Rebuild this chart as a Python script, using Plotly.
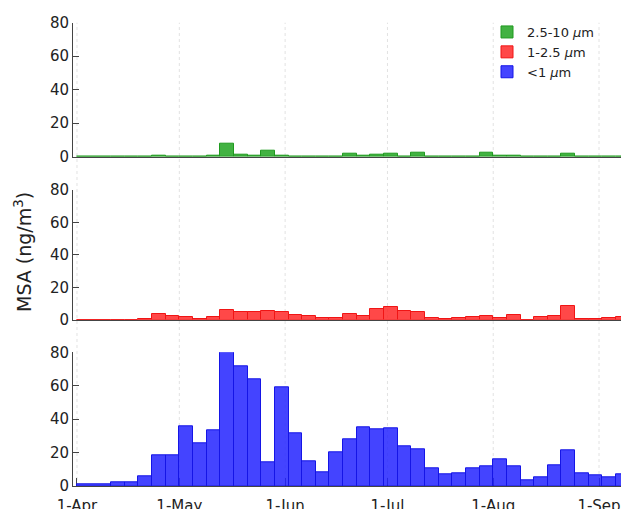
import pandas as pd
import plotly.graph_objects as go

# Sample periods (start date, length in days)
sample_start = ["2016-04-01"] + [d.strftime("%Y-%m-%d") for d in pd.date_range("2016-04-11", "2016-09-06", freq="4D")]
sample_days = [10] + [4] * 38

coarse = [0, 0, 0, 0, 0.4, 0.2, 0.2, 0.2, 0.4, 8.0, 1.2, 0.8, 3.4, 0.8, 0.3, 0.3, 0.2, 0.2, 1.6,
          0.8, 1.4, 1.8, 0.2, 2.4, 0.1, 0.1, 0.1, 0.2, 2.2, 0.4, 0.6, 0.2, 0.2, 0.2, 2.0, 0.2, 0.2, 0.2, 0.2]
mid = [0, 0, 0, 0.3, 3.3, 2.3, 1.9, 0.6, 1.6, 5.8, 4.9, 4.5, 5.1, 4.7, 2.9, 2.5, 0.8, 1.2, 3.3,
       2.3, 6.6, 7.8, 5.3, 4.5, 0.8, 0.2, 1.0, 1.4, 2.5, 0.8, 2.9, 0.1, 1.6, 2.1, 8.4, 0.4, 0.4, 0.8, 1.4]
fine = [0.8, 2.0, 2.2, 5.6, 18.2, 18.6, 35.7, 25.5, 33.3, 79.8, 71.4, 63.8, 14.0, 59.3, 31.5, 15.0, 8.0, 20.3, 27.7,
        34.9, 33.9, 34.3, 23.5, 22.1, 10.4, 7.2, 7.6, 10.8, 11.8, 15.8, 11.6, 3.4, 5.4, 12.6, 21.5, 7.4, 6.4, 5.2, 7.0]

month_ticks = ["2016-04-01", "2016-05-01", "2016-06-01", "2016-07-01", "2016-08-01", "2016-09-01"]
y_ticks = [0, 20, 40, 60, 80]

starts = pd.to_datetime(sample_start)
widths_ms = [d * 86400000 for d in sample_days]
centers = [s + pd.Timedelta(days=d / 2) for s, d in zip(starts, sample_days)]

FONT = "DejaVu Sans"
OFF = 8  # page body margin
W, H = 629 - OFF, 509 - OFF

def py(px):
    return 1 - (px - OFF) / H

series = [
    ("2.5-10 <i>μ</i>m", coarse, "rgba(45,170,45,0.9)", "#1f9a1f", "x", "y"),
    ("1-2.5 <i>μ</i>m", mid, "rgba(255,40,40,0.85)", "#f01515", "x2", "y2"),
    ("<1 <i>μ</i>m", fine, "rgba(35,35,255,0.85)", "#1515e6", "x3", "y3"),
]

fig = go.Figure()
for name, vals, fill, edge, xa, ya in series:
    fig.add_trace(go.Bar(x=centers, y=vals, width=widths_ms, name=name,
                         marker=dict(color=fill, line=dict(color=edge, width=1)),
                         xaxis=xa, yaxis=ya))

x_range = ["2016-03-30 20:00", "2016-09-09 19:00"]
domains = [(py(156.7), py(22.7)), (py(319.7), py(190)), (py(486), py(352.3))]

axcol = "#444444"
layout = dict(
    width=W, height=H,
    margin=dict(l=73 - OFF, r=0, t=0, b=0),
    paper_bgcolor="white", plot_bgcolor="white",
    bargap=0, barmode="overlay",
    font=dict(family=FONT, size=15, color="#222222"),
    showlegend=True,
    legend=dict(x=(487 - 73) / (629 - 73), y=py(17), xanchor="left", yanchor="top",
                font=dict(family=FONT, size=13, color="#222222"),
                bgcolor="rgba(0,0,0,0)", tracegroupgap=0, itemwidth=30),
)
for i, (d0, d1) in enumerate(domains):
    sfx = "" if i == 0 else str(i + 1)
    layout["xaxis" + sfx] = dict(
        domain=[0, 1], anchor="y" + sfx, type="date", range=x_range,
        tickvals=month_ticks, tickformat="%-d-%b",
        showticklabels=(i == 2), ticks="inside" if i == 2 else "", ticklen=8,
        tickcolor=axcol, showgrid=False, zeroline=False,
        showline=True, linecolor=axcol, linewidth=1, layer="below traces",
        tickfont=dict(family=FONT, size=15, color="#222222"),
        ticklabelstandoff=6,
        fixedrange=True, automargin=False,
        matches=None if i == 0 else "x",
    )
    layout["yaxis" + sfx] = dict(
        domain=[d0, d1], anchor="x" + sfx, range=[0, 80], tickvals=y_ticks,
        ticks="inside", ticklen=6, tickcolor=axcol, showgrid=False, zeroline=False,
        showline=True, linecolor=axcol, linewidth=1, layer="below traces",
        tickfont=dict(family=FONT, size=15, color="#222222"),
        automargin=False,
    )
    # right-hand mirrored ticks (no line)
    layout["yaxis" + str(4 + i)] = dict(
        domain=[d0, d1], anchor="x" + sfx, overlaying="y" + sfx, side="right",
        range=[0, 80], tickvals=y_ticks, ticks="inside", ticklen=7, tickcolor=axcol,
        showticklabels=False, showgrid=False, zeroline=False, showline=False,
        automargin=False,
    )

fig.update_layout(**layout)

# dummy traces so the right-hand axes are drawn
for i in range(3):
    sfx = "" if i == 0 else str(i + 1)
    fig.add_trace(go.Scatter(x=[month_ticks[0]], y=[None], xaxis="x" + sfx, yaxis="y" + str(4 + i),
                             showlegend=False, hoverinfo="skip", mode="markers"))

# month gridlines spanning all panels
for m in month_ticks:
    fig.add_shape(type="line", xref="x3", yref="paper", x0=m, x1=m,
                  y0=domains[2][0], y1=domains[0][1],
                  line=dict(color="#e2e2e2", width=1, dash="dot"), layer="below")

fig.add_annotation(text="MSA (ng/m<sup>3</sup>)", xref="paper", yref="paper",
                   x=-50 / (629 - 73), y=py(252), textangle=-90, showarrow=False,
                   xanchor="center", yanchor="middle",
                   font=dict(family=FONT, size=19, color="#222222"))

fig.write_html("out.html")
